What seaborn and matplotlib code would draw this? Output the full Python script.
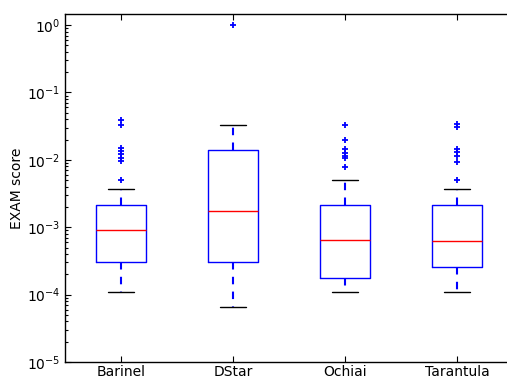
import matplotlib
matplotlib.use("Agg")
import matplotlib.pyplot as plt
import seaborn as sns
import pandas as pd

# ---- values (EXAM score, log axis) ----
labels = ["Barinel", "DStar", "Ochiai", "Tarantula"]
whisker_low = [1.10e-4, 6.5e-5, 1.08e-4, 1.08e-4]
q1 = [3.08e-4, 3.04e-4, 1.77e-4, 2.59e-4]
median = [9.1e-4, 1.73e-3, 6.46e-4, 6.18e-4]
q3 = [2.15e-3, 1.38e-2, 2.15e-3, 2.15e-3]
whisker_high = [3.65e-3, 3.30e-2, 5.0e-3, 3.65e-3]
fliers_barinel = [3.95e-2, 3.33e-2, 1.475e-2, 1.33e-2, 1.22e-2, 1.08e-2, 9.7e-3, 5.1e-3]
fliers_dstar = [1.0]
fliers_ochiai = [3.33e-2, 1.97e-2, 1.45e-2, 1.28e-2, 1.15e-2, 1.06e-2, 7.9e-3]
fliers_tarantula = [3.42e-2, 3.05e-2, 1.45e-2, 1.30e-2, 1.15e-2, 9.3e-3, 5.1e-3]
fliers = [fliers_barinel, fliers_dstar, fliers_ochiai, fliers_tarantula]


def sample_from_summary(lo, a, m, b, hi, out):
    """A sample whose quartiles/whisker ends/outliers equal the read values."""
    k = len(out) + 1
    return [lo] * k + [a] * k + [m] * k + [b, hi] + list(out)


rows = []
for i, lab in enumerate(labels):
    for v in sample_from_summary(whisker_low[i], q1[i], median[i], q3[i],
                                 whisker_high[i], fliers[i]):
        rows.append({"method": lab, "score": v})
df = pd.DataFrame(rows)

sns.set_style("ticks", {"xtick.direction": "in", "ytick.direction": "in",
                        "text.color": "black", "axes.labelcolor": "black",
                        "xtick.color": "black", "ytick.color": "black"})
plt.rcParams["font.family"] = ["DejaVu Sans"]
plt.rcParams["mathtext.fontset"] = "dejavusans"

fig = plt.figure(figsize=(5.07, 3.79), dpi=100)
ax = fig.add_axes([65 / 507, 1 - 362 / 379, 448 / 507, 348 / 379])

sns.boxplot(
    data=df, x="method", y="score", order=labels, ax=ax,
    width=0.45, color="blue", fill=False, whis=1.5,
    boxprops=dict(color="blue", linewidth=1.0),
    medianprops=dict(color="red", linewidth=1.0),
    whiskerprops=dict(color="blue", linewidth=1.5, linestyle=(0, (3.6, 3.5))),
    capprops=dict(color="black", linewidth=1.0),
    flierprops=dict(marker="+", markeredgecolor="blue", markerfacecolor="blue",
                    markersize=5, markeredgewidth=1.3, linestyle="none"),
)

ax.set_yscale("log")
ax.set_ylim(1e-5, 1.46)
ax.set_xlim(-0.5, 3.5)
ax.set_xlabel("")
ax.set_ylabel("EXAM score", fontsize=10, labelpad=2, color="black")
for s in ax.spines.values():
    s.set_visible(True)
    s.set_linewidth(1.0)
    s.set_color("black")
ax.spines["right"].set_visible(False)
ax.tick_params(axis="both", which="both", direction="in", top=True, right=False,
               labelsize=10, width=0.8, colors="black")
ax.tick_params(axis="both", which="major", length=4)
ax.tick_params(axis="both", which="minor", length=2)
ax.tick_params(axis="x", which="minor", top=False, bottom=False)
ax.tick_params(axis="x", which="major", pad=2)

fig.savefig("out.png", dpi=100)
